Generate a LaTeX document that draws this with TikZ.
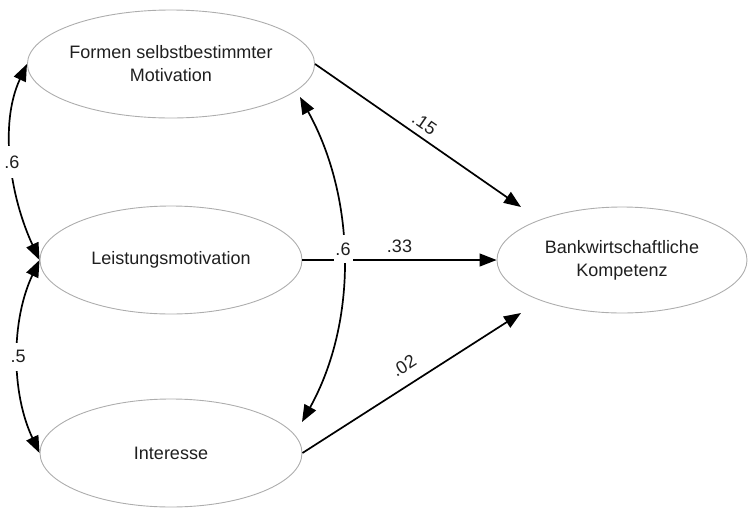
\documentclass[tikz,border=0pt]{standalone}
\usepackage{fontspec}
\setmainfont{Liberation Sans}
\usetikzlibrary{shapes.geometric,arrows.meta,calc}
\begin{document}
\begin{tikzpicture}[x=1pt,y=-1pt,
  latent/.style={ellipse,draw=black!32,line width=0.9pt,minimum width=262pt,minimum height=108pt,
    inner sep=0pt,align=center,font=\fontsize{18}{23}\selectfont,text=black!88},
  arrowhd/.tip={Triangle[length=17pt,width=13pt]},
  pathline/.style={line width=1.7pt,-arrowhd},
  covline/.style={line width=1.7pt,arrowhd-arrowhd},
  lab/.style={font=\fontsize{18}{20}\selectfont,inner sep=1pt,text=black!88},
  gaplab/.style={lab,fill=white,inner sep=0pt}]
\useasboundingbox (0,0) rectangle (748,507);
\node[latent] (fsm) at (171,64) {Formen selbstbestimmter\\Motivation};
\node[latent] (lm) at (171,260) {Leistungsmotivation};
\node[latent] (int) at (171,453) {Interesse};
\node[latent,minimum width=250pt,minimum height=106pt] (bk) at (622,260) {Bankwirtschaftliche\\Kompetenz};
\coordinate (t15) at (521,207);
\coordinate (t02) at (521,313);
\coordinate (ra) at (300,97);
\coordinate (rb) at (302,422);
% paths
\draw[pathline] (fsm.east) -- node[lab,sloped,above=5pt,pos=0.495]{.15} (t15);
\draw[pathline] (int.east) -- node[lab,sloped,above=10.5pt,pos=0.51]{.02} (t02);
% covariances
\draw[covline] (fsm.west) .. controls +(-28.6,61.4) and +(-28.6,-61.4) .. node[gaplab,minimum width=18pt,minimum height=32pt]{.6} (lm.west);
\draw[covline] (lm.west) .. controls +(-28.6,60.4) and +(-28.6,-60.4) .. node[gaplab,minimum width=18pt,minimum height=28pt]{.5} (int.west);
\draw[covline] (ra) .. controls +(56,101) and +(56,-101) .. (rb);
\draw[line width=1.2pt,-arrowhd] (lm.east) -- node[lab,above=6pt,pos=0.5]{.33} (bk.west);
\node[gaplab,minimum width=19pt,minimum height=28pt] (c6) at (343,249) {.6};
\end{tikzpicture}
\end{document}
